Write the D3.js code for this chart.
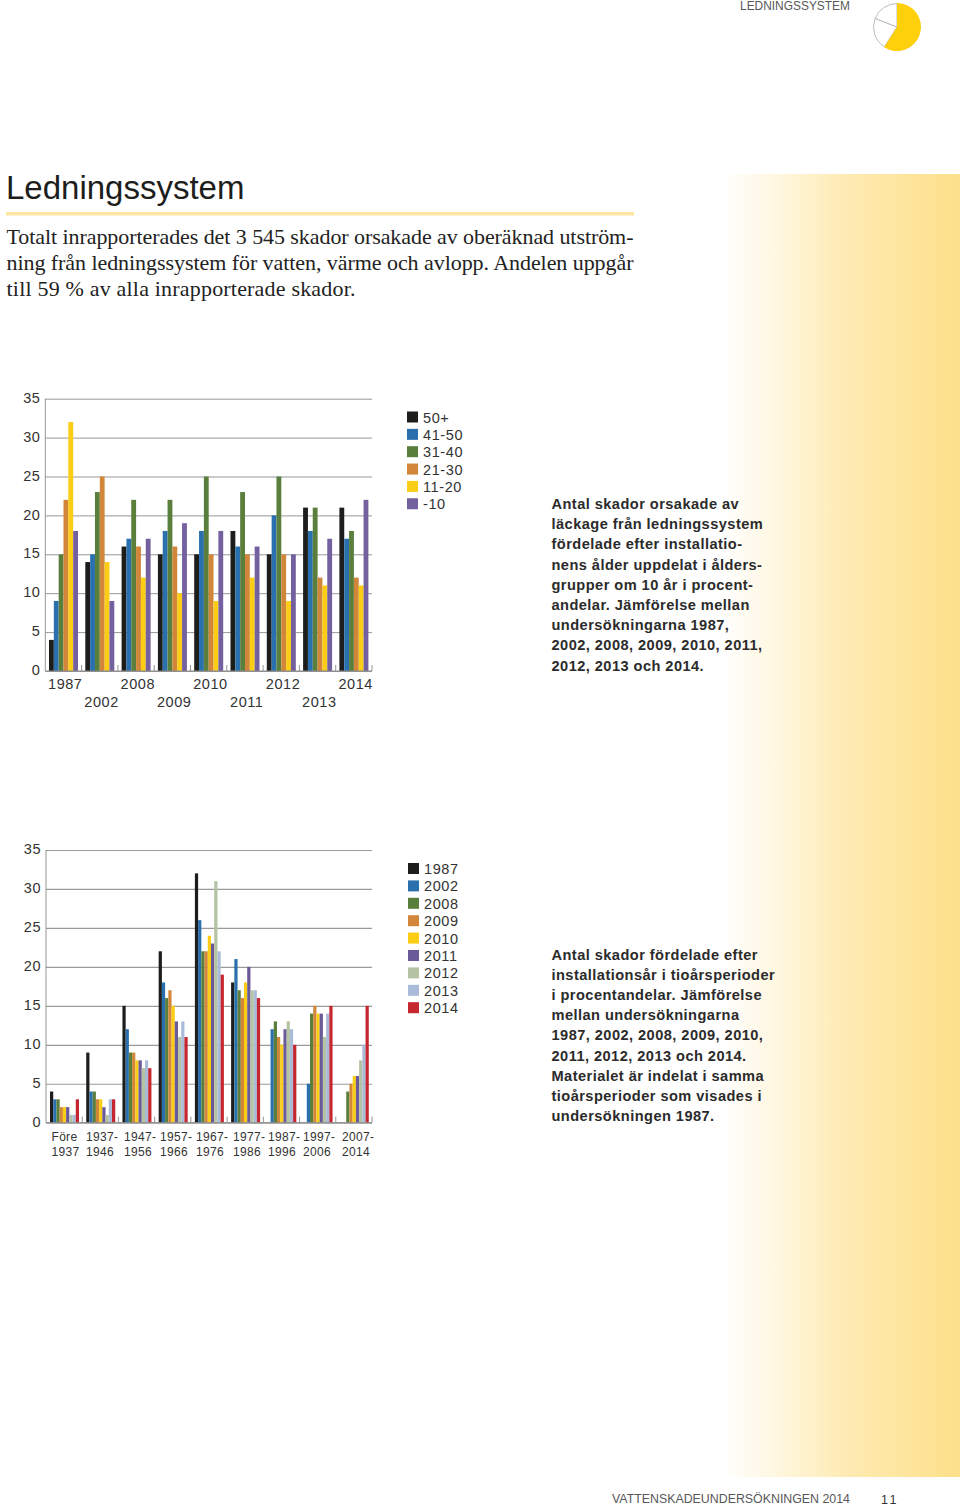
<!DOCTYPE html>
<html><head><meta charset="utf-8">
<script src="https://cdn.jsdelivr.net/npm/d3@7"></script>
<style>
html,body{margin:0;padding:0;background:#fff}
svg{display:block}
text{font-family:"Liberation Sans",Arial,sans-serif}
</style></head><body>
<svg id="page" width="960" height="1507"></svg>
<script>
const ageYears = ["1987","2002","2008","2009","2010","2011","2012","2013","2014"];
const ageSeries = ["50+","41-50","31-40","21-30","11-20","-10"];
const age50plus = [4,14,16,15,15,18,15,21,21];
const age41to50 = [9,15,17,18,18,16,20,18,17];
const age31to40 = [15,23,22,22,25,23,25,21,18];
const age21to30 = [22,25,16,16,15,15,15,12,12];
const age11to20 = [32,14,12,10,9,12,9,11,11];
const ageUnder10 = [18,9,17,19,18,16,15,17,22];
const ageColors = ["#1d1d1b","#2a70ae","#5a7f3c","#d1863a","#fbcd14","#75609f"];

const periodLabels = [["Före","1937"],["1937-","1946"],["1947-","1956"],["1957-","1966"],["1967-","1976"],["1977-","1986"],["1987-","1996"],["1997-","2006"],["2007-","2014"]];
const periodSeries = ["1987","2002","2008","2009","2010","2011","2012","2013","2014"];
const p1987 = [4,9,15,22,32,18,0,0,0];
const p2002 = [3,4,12,18,26,21,12,5,0];
const p2008 = [3,4,9,16,22,17,13,14,4];
const p2009 = [2,3,9,17,22,16,11,15,5];
const p2010 = [2,3,8,15,24,18,10,14,6];
const p2011 = [2,2,8,13,23,20,12,14,6];
const p2012 = [1,1,7,11,31,17,13,11,8];
const p2013 = [1,3,8,13,22,17,12,14,10];
const p2014 = [3,3,7,11,19,16,10,15,15];
const periodColors = ["#1d1d1b","#2a70ae","#5a7f3c","#d1863a","#fbcd14","#6a5a9a","#b4c3a2","#a9bbd9","#c5262f"];

const yTicks = [0,5,10,15,20,25,30,35];
const pieShares = [59,22,19];
const headerLabel = "LEDNINGSSYSTEM";
const title = "Ledningssystem";
const intro = ["Totalt inrapporterades det 3 545 skador orsakade av oberäknad utström-","ning från ledningssystem för vatten, värme och avlopp. Andelen uppgår","till 59 % av alla inrapporterade skador."];
const caption1 = ["Antal skador orsakade av","läckage från ledningssystem","fördelade efter installatio-","nens ålder uppdelat i ålders-","grupper om 10 år i procent-","andelar. Jämförelse mellan","undersökningarna 1987,","2002, 2008, 2009, 2010, 2011,","2012, 2013 och 2014."];
const caption2 = ["Antal skador fördelade efter","installationsår i tioårsperioder","i procentandelar. Jämförelse","mellan undersökningarna","1987, 2002, 2008, 2009, 2010,","2011, 2012, 2013 och 2014.","Materialet är indelat i samma","tioårsperioder som visades i","undersökningen 1987."];
const footer = "VATTENSKADEUNDERSÖKNINGEN 2014";
const pageNo = "11";

const svg = d3.select("#page");
const defs = svg.append("defs");
const grad = defs.append("linearGradient").attr("id","side").attr("x1",0).attr("x2",1).attr("y1",0).attr("y2",0);
[[0,"#fde08a",0],[0.25,"#fde08a",0.3],[0.55,"#fde08a",0.68],[1,"#fde08a",1]].forEach(s=>grad.append("stop").attr("offset",s[0]).attr("stop-color",s[1]).attr("stop-opacity",s[2]));
svg.append("rect").attr("x",722).attr("y",174).attr("width",238).attr("height",1303).attr("fill","url(#side)");

// header
svg.append("text").attr("x",740).attr("y",10).attr("font-size",12).attr("textLength",110).attr("lengthAdjust","spacingAndGlyphs").attr("fill","#58585a").text(headerLabel);
const pieG = svg.append("g").attr("transform","translate(897,27)");
const arcs = d3.pie().sort(null)(pieShares);
const arc = d3.arc().innerRadius(0).outerRadius(23.5);
const arcY = d3.arc().innerRadius(0).outerRadius(24);
pieG.selectAll("path").data(arcs).join("path").attr("d",arc)
  .attr("fill",(d,i)=>i===0?"#fdd00b":"#fff")
  .attr("stroke",(d,i)=>i===0?"none":"#b5b5b5").attr("stroke-width",0.9);
pieG.append("path").datum(arcs[0]).attr("d",arcY).attr("fill","#fdd00b");

// title
svg.append("text").attr("x",6).attr("y",199).attr("font-size",33).attr("fill","#1d1d1b").text(title);
svg.append("rect").attr("x",6).attr("y",212).attr("width",628).attr("height",3.5).attr("fill","#fbe69f");
const introLen = [627,627,349];
svg.selectAll("text.intro").data(intro).join("text").attr("class","intro")
  .attr("x",6.5).attr("y",(d,i)=>244+i*26).attr("font-size",22)
  .attr("fill","#222").style("font-family","'Liberation Serif',serif")
  .attr("textLength",(d,i)=>introLen[i]).attr("lengthAdjust","spacing").text(d=>d);

function chart(opts){
  const x = d3.scaleBand().domain(d3.range(opts.labels.length)).range([opts.x0,opts.x1]).paddingInner(0).paddingOuter(0);
  const y = d3.scaleLinear().domain([0,35]).range([opts.y0,opts.y1]);
  const g = svg.append("g");
  const yAxis = d3.axisLeft(y).tickValues(yTicks).tickSize(-(opts.x1-opts.x0)).tickPadding(5).tickSizeOuter(0);
  const ya = g.append("g").attr("transform",`translate(${opts.x0},0)`).call(yAxis);
  ya.select(".domain").remove();
  ya.selectAll(".tick line").attr("stroke",opts.gridColor).attr("stroke-width",opts.gridWidth);
  ya.selectAll(".tick text").attr("font-size",14.5).attr("letter-spacing",0.5).attr("fill","#333").attr("x",-5).attr("y",-1).attr("font-family","'Liberation Sans',sans-serif");
  g.append("line").attr("x1",opts.x0).attr("x2",opts.x0).attr("y1",opts.y1).attr("y2",opts.y0).attr("stroke","#8a8a8a").attr("stroke-width",0.9);
  g.selectAll("line.cat").data(d3.range(opts.labels.length)).join("line").attr("class","cat")
    .attr("x1",i=>x(i)+x.bandwidth()).attr("x2",i=>x(i)+x.bandwidth())
    .attr("y1",opts.y0-6).attr("y2",opts.y0).attr("stroke","#8a8a8a").attr("stroke-width",0.9);
  const inner = d3.scaleBand().domain(d3.range(opts.series.length)).range([opts.barStart,opts.barStart+opts.barSpan]);
  opts.series.forEach((vals,s)=>{
    g.selectAll(null).data(vals).join("rect")
      .attr("x",(d,i)=>x(i)+inner(s)).attr("width",inner.bandwidth())
      .attr("y",d=>y(d)).attr("height",d=>y(0)-y(d)).attr("fill",opts.colors[s]);
  });
  g.append("line").attr("x1",opts.x0).attr("x2",opts.x1).attr("y1",opts.y0).attr("y2",opts.y0).attr("stroke","#8a8a8a").attr("stroke-width",1);
  return {x,y,g};
}

const c1 = chart({labels:ageYears,series:[age50plus,age41to50,age31to40,age21to30,age11to20,ageUnder10],colors:ageColors,
  x0:45.3,x1:372,y0:671,y1:398.7,barStart:3.7,barSpan:29,gridColor:"#8c8c8c",gridWidth:0.9});
c1.g.selectAll("text.xl").data(ageYears).join("text").attr("class","xl")
  .attr("x",(d,i)=>c1.x(i)+c1.x.bandwidth()/2+1.8).attr("y",(d,i)=>i%2?706.5:689).attr("text-anchor","middle")
  .attr("font-size",14.5).attr("letter-spacing",0.55).attr("fill","#333").text(d=>d);

const c2 = chart({labels:periodLabels,series:[p1987,p2002,p2008,p2009,p2010,p2011,p2012,p2013,p2014],colors:periodColors,
  x0:46,x1:372,y0:1122.7,y1:850,barStart:4,barSpan:29,gridColor:"#9a9a9a",gridWidth:1.2});
const xl2 = [51.5,86,124,160,196,233,268,303,342];
c2.g.selectAll("g.xl").data(periodLabels).join("g").attr("class","xl").each(function(d,i){
  d3.select(this).selectAll("text").data(d).join("text")
    .attr("x",xl2[i]).attr("y",(t,j)=>1140.5+j*15)
    .attr("font-size",12).attr("letter-spacing",0.3).attr("fill","#333").text(t=>t);
});

function legend(items,colors,xs,xt,y0,dy,size){
  const g = svg.append("g");
  g.selectAll("rect").data(items).join("rect").attr("x",xs).attr("y",(d,i)=>y0+i*dy-6).attr("width",11).attr("height",11).attr("fill",(d,i)=>colors[i]);
  g.selectAll("text").data(items).join("text").attr("x",xt).attr("y",(d,i)=>y0+i*dy+5).attr("font-size",size).attr("letter-spacing",0.6).attr("fill","#333").text(d=>d);
}
legend(ageSeries,ageColors,407,423,417.5,17.35,14.5);
legend(periodSeries,periodColors,408,424,869,17.4,14.5);

function caption(lines,y0){
  svg.selectAll(null).data(lines).join("text").attr("x",551.5).attr("y",(d,i)=>y0+i*20.2)
    .attr("font-size",14.6).attr("letter-spacing",0.45).attr("font-weight","bold").attr("fill","#2b2b2b").text(d=>d);
}
caption(caption1,509);
caption(caption2,959.5);

svg.append("text").attr("x",612).attr("y",1503).attr("font-size",12).attr("textLength",238).attr("lengthAdjust","spacingAndGlyphs").attr("fill","#58585a").text(footer);
svg.append("text").attr("x",881).attr("y",1504).attr("font-size",12.5).attr("letter-spacing",2.5).attr("fill","#333").text(pageNo);
</script>
</body></html>
